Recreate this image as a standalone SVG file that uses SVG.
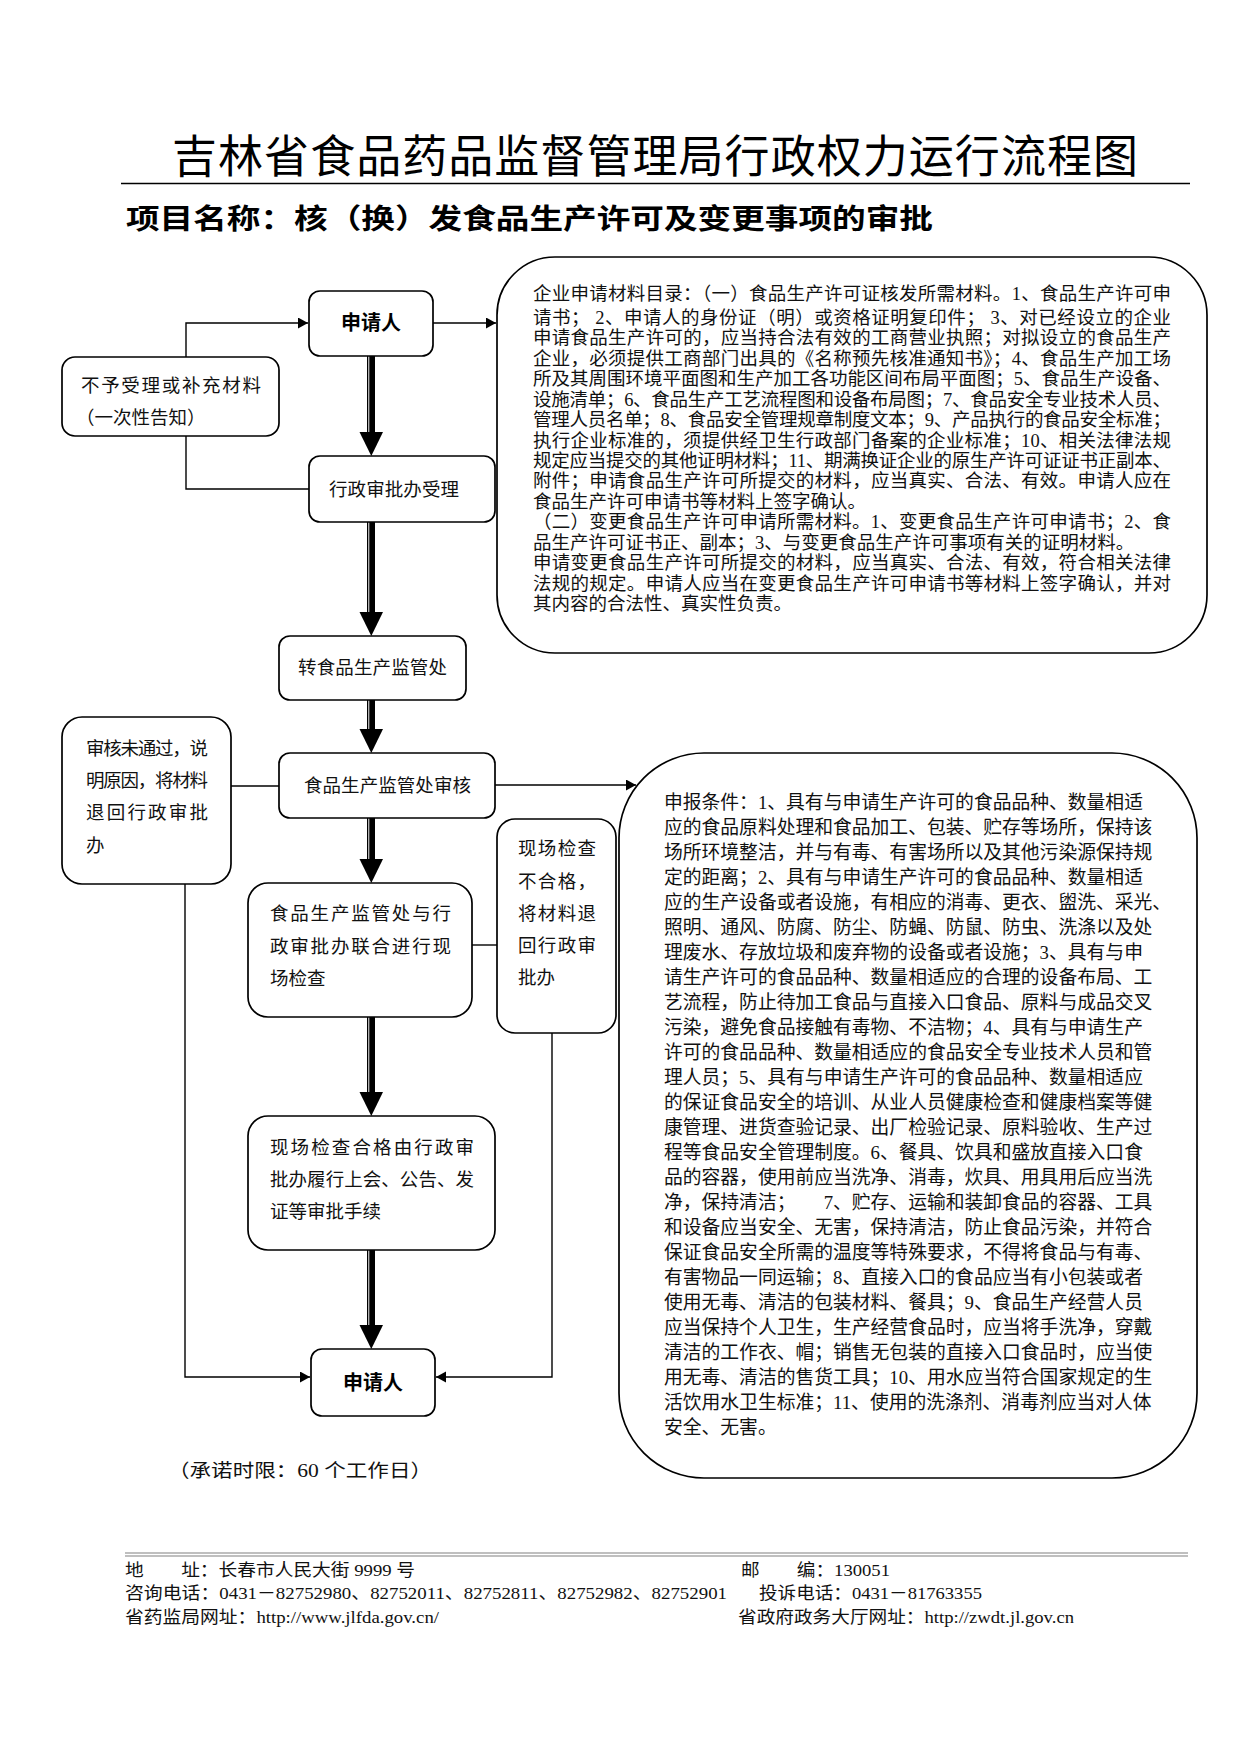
<svg xmlns="http://www.w3.org/2000/svg" width="1240" height="1754" viewBox="0 0 1240 1754">
<style>
.bg{fill:#ffffff}
.box{fill:#ffffff;stroke:#000000;stroke-width:1.7}
.t{font-family:"Liberation Serif","Noto Sans CJK SC",serif;font-size:18.5px;fill:#111111}
.b1{font-family:"Liberation Serif","Noto Sans CJK SC",serif;font-size:18.5px;fill:#111111}
.b2{font-family:"Liberation Serif","Noto Sans CJK SC",serif;font-size:18.8px;fill:#111111}
.bold{font-family:"Noto Sans CJK SC","Liberation Sans",sans-serif;font-size:20px;font-weight:bold;fill:#000000}
.title{font-family:"Noto Sans CJK SC","Liberation Sans",sans-serif;font-size:45px;fill:#000000}
.sub{font-family:"Noto Sans CJK SC","Liberation Sans",sans-serif;font-size:28px;font-weight:bold;fill:#000000}
.ft{font-family:"Liberation Serif","Noto Sans CJK SC",serif;font-size:17.5px;fill:#111111}
.cn{fill:none;stroke:#000000;stroke-width:1.4}
.thk{stroke:#000000;stroke-width:8}
.thkg{stroke:#b0b0b0;stroke-width:1.4}
.thh{fill:#000000}
</style>
<defs>
<marker id="arr" markerUnits="userSpaceOnUse" markerWidth="11" markerHeight="12" refX="10" refY="5.5" orient="auto">
<path d="M0,0 L10,5.5 L0,11 z" fill="#000000"/>
</marker>
</defs>
<rect class="bg" x="0" y="0" width="1240" height="1754"/>

<g id="header">
<text class="title" x="172" y="173" textLength="966" lengthAdjust="spacing">吉林省食品药品监督管理局行政权力运行流程图</text>
<line x1="121" y1="183.5" x2="1190" y2="183.5" stroke="#000000" stroke-width="1.6"/>
<text class="sub" x="126" y="229" textLength="807" lengthAdjust="spacingAndGlyphs">项目名称：核（换）发食品生产许可及变更事项的审批</text>
</g>

<g id="connectors">
<polyline class="cn" points="186,357 186,323 308,323" marker-end="url(#arr)"/>
<polyline class="cn" points="309,489 186,489 186,436"/>
<line class="cn" x1="433" y1="323" x2="496" y2="323" marker-end="url(#arr)"/>
<line class="cn" x1="279" y1="786" x2="231" y2="786"/>
<polyline class="cn" points="185,884 185,1377 310,1377" marker-end="url(#arr)"/>
<line class="cn" x1="495" y1="785" x2="636" y2="785" marker-end="url(#arr)"/>
<line class="cn" x1="472" y1="945" x2="497" y2="945"/>
<polyline class="cn" points="552,1033 552,1377 436,1377" marker-end="url(#arr)"/>

<g id="thick1">
<line class="thk" x1="371" y1="356" x2="371" y2="433"/>
<line class="thkg" x1="368.7" y1="356" x2="368.7" y2="433"/>
<polygon class="thh" points="359.5,432 383,432 371.3,456"/>
</g>
<g id="thick2">
<line class="thk" x1="371" y1="522" x2="371" y2="613"/>
<line class="thkg" x1="368.7" y1="522" x2="368.7" y2="613"/>
<polygon class="thh" points="359.5,612 383,612 371.3,636"/>
</g>
<g id="thick3">
<line class="thk" x1="371" y1="700" x2="371" y2="730"/>
<line class="thkg" x1="368.7" y1="700" x2="368.7" y2="730"/>
<polygon class="thh" points="359.5,729 383,729 371.3,753"/>
</g>
<g id="thick4">
<line class="thk" x1="371" y1="818" x2="371" y2="860"/>
<line class="thkg" x1="368.7" y1="818" x2="368.7" y2="860"/>
<polygon class="thh" points="359.5,859 383,859 371.3,883"/>
</g>
<g id="thick5">
<line class="thk" x1="371" y1="1017" x2="371" y2="1093"/>
<line class="thkg" x1="368.7" y1="1017" x2="368.7" y2="1093"/>
<polygon class="thh" points="359.5,1092 383,1092 371.3,1116"/>
</g>
<g id="thick6">
<line class="thk" x1="371" y1="1250" x2="371" y2="1326"/>
<line class="thkg" x1="368.7" y1="1250" x2="368.7" y2="1326"/>
<polygon class="thh" points="359.5,1325 383,1325 371.3,1349"/>
</g>
</g>

<g id="node-applicant-top">
<rect class="box" x="309" y="291" width="124" height="65" rx="11"/>
<text class="bold" x="371" y="330" text-anchor="middle">申请人</text>
</g>

<g id="node-reject">
<rect class="box" x="62" y="357" width="217" height="79" rx="13"/>
<text class="t" x="81" y="392" textLength="180" lengthAdjust="spacing">不予受理或补充材料</text>
<text class="t" x="76" y="424">（一次性告知）</text>
</g>

<g id="node-accept">
<rect class="box" x="309" y="456" width="186" height="66" rx="11"/>
<text class="t" x="329" y="496" textLength="130" lengthAdjust="spacing">行政审批办受理</text>
</g>

<g id="node-transfer">
<rect class="box" x="279" y="636" width="187" height="64" rx="11"/>
<text class="t" x="298" y="674" textLength="149" lengthAdjust="spacing">转食品生产监管处</text>
</g>

<g id="node-review">
<rect class="box" x="279" y="753" width="216" height="65" rx="11"/>
<text class="t" x="304" y="792" textLength="167" lengthAdjust="spacing">食品生产监管处审核</text>
</g>

<g id="node-review-fail">
<rect class="box" x="62" y="717" width="169" height="167" rx="20"/>
<text class="t" x="86" y="755" textLength="122" lengthAdjust="spacing">审核未通过，说</text>
<text class="t" x="86" y="787" textLength="122" lengthAdjust="spacing">明原因，将材料</text>
<text class="t" x="86" y="819" textLength="122" lengthAdjust="spacing">退回行政审批</text>
<text class="t" x="86" y="852">办</text>
</g>

<g id="node-inspect">
<rect class="box" x="248" y="883" width="224" height="134" rx="20"/>
<text class="t" x="270" y="920" textLength="181" lengthAdjust="spacing">食品生产监管处与行</text>
<text class="t" x="270" y="953" textLength="181" lengthAdjust="spacing">政审批办联合进行现</text>
<text class="t" x="270" y="985">场检查</text>
</g>

<g id="node-inspect-fail">
<rect class="box" x="497" y="819" width="119" height="214" rx="18"/>
<text class="t" x="518" y="855" textLength="78" lengthAdjust="spacing">现场检查</text>
<text class="t" x="518" y="888" textLength="78" lengthAdjust="spacing">不合格，</text>
<text class="t" x="518" y="920" textLength="78" lengthAdjust="spacing">将材料退</text>
<text class="t" x="518" y="952" textLength="78" lengthAdjust="spacing">回行政审</text>
<text class="t" x="518" y="984">批办</text>
</g>

<g id="node-approve">
<rect class="box" x="248" y="1116" width="247" height="134" rx="20"/>
<text class="t" x="270" y="1154" textLength="204" lengthAdjust="spacing">现场检查合格由行政审</text>
<text class="t" x="270" y="1186" textLength="204" lengthAdjust="spacing">批办履行上会、公告、发</text>
<text class="t" x="270" y="1218">证等审批手续</text>
</g>

<g id="node-applicant-bottom">
<rect class="box" x="311" y="1349" width="124" height="67" rx="11"/>
<text class="bold" x="373" y="1390" text-anchor="middle">申请人</text>
</g>

<g id="note-time">
<text class="t" x="168" y="1477" font-size="20" textLength="264" lengthAdjust="spacingAndGlyphs">（承诺时限：60 个工作日）</text>
</g>

<g id="node-materials">
<rect class="box" x="497" y="257" width="710" height="396" rx="58"/>
<text class="b1" x="533" y="300" textLength="638" lengthAdjust="spacing">企业申请材料目录：（一）食品生产许可证核发所需材料。1、食品生产许可申</text>
<text class="b1" x="533" y="324" textLength="638" lengthAdjust="spacing">请书； 2、申请人的身份证（明）或资格证明复印件； 3、对已经设立的企业</text>
<text class="b1" x="533" y="344.4" textLength="638" lengthAdjust="spacing">申请食品生产许可的，应当持合法有效的工商营业执照；对拟设立的食品生产</text>
<text class="b1" x="533" y="364.9" textLength="638" lengthAdjust="spacing">企业，必须提供工商部门出具的《名称预先核准通知书》；4、食品生产加工场</text>
<text class="b1" x="533" y="385.3" textLength="638" lengthAdjust="spacing">所及其周围环境平面图和生产加工各功能区间布局平面图；5、食品生产设备、</text>
<text class="b1" x="533" y="405.7" textLength="638" lengthAdjust="spacing">设施清单；6、食品生产工艺流程图和设备布局图；7、食品安全专业技术人员、</text>
<text class="b1" x="533" y="426.1" textLength="638" lengthAdjust="spacing">管理人员名单；8、食品安全管理规章制度文本；9、产品执行的食品安全标准；</text>
<text class="b1" x="533" y="446.6" textLength="638" lengthAdjust="spacing">执行企业标准的，须提供经卫生行政部门备案的企业标准；10、相关法律法规</text>
<text class="b1" x="533" y="467" textLength="638" lengthAdjust="spacing">规定应当提交的其他证明材料；11、期满换证企业的原生产许可证证书正副本、</text>
<text class="b1" x="533" y="487.4" textLength="638" lengthAdjust="spacing">附件；申请食品生产许可所提交的材料，应当真实、合法、有效。申请人应在</text>
<text class="b1" x="533" y="507.8">食品生产许可申请书等材料上签字确认。</text>
<text class="b1" x="533" y="528.3" textLength="638" lengthAdjust="spacing">（二）变更食品生产许可申请所需材料。1、变更食品生产许可申请书；2、食</text>
<text class="b1" x="533" y="548.7">品生产许可证书正、副本；3、与变更食品生产许可事项有关的证明材料。</text>
<text class="b1" x="533" y="569.1" textLength="638" lengthAdjust="spacing">申请变更食品生产许可所提交的材料，应当真实、合法、有效，符合相关法律</text>
<text class="b1" x="533" y="589.5" textLength="638" lengthAdjust="spacing">法规的规定。申请人应当在变更食品生产许可申请书等材料上签字确认，并对</text>
<text class="b1" x="533" y="610">其内容的合法性、真实性负责。</text>
</g>

<g id="node-conditions">
<rect class="box" x="619" y="753" width="578" height="725" rx="85"/>
<text class="b2" x="664" y="809">申报条件：1、具有与申请生产许可的食品品种、数量相适</text>
<text class="b2" x="664" y="834">应的食品原料处理和食品加工、包装、贮存等场所，保持该</text>
<text class="b2" x="664" y="859">场所环境整洁，并与有毒、有害场所以及其他污染源保持规</text>
<text class="b2" x="664" y="884">定的距离；2、具有与申请生产许可的食品品种、数量相适</text>
<text class="b2" x="664" y="909">应的生产设备或者设施，有相应的消毒、更衣、盥洗、采光、</text>
<text class="b2" x="664" y="934">照明、通风、防腐、防尘、防蝇、防鼠、防虫、洗涤以及处</text>
<text class="b2" x="664" y="959">理废水、存放垃圾和废弃物的设备或者设施；3、具有与申</text>
<text class="b2" x="664" y="984">请生产许可的食品品种、数量相适应的合理的设备布局、工</text>
<text class="b2" x="664" y="1009">艺流程，防止待加工食品与直接入口食品、原料与成品交叉</text>
<text class="b2" x="664" y="1034">污染，避免食品接触有毒物、不洁物；4、具有与申请生产</text>
<text class="b2" x="664" y="1059">许可的食品品种、数量相适应的食品安全专业技术人员和管</text>
<text class="b2" x="664" y="1084">理人员；5、具有与申请生产许可的食品品种、数量相适应</text>
<text class="b2" x="664" y="1109">的保证食品安全的培训、从业人员健康检查和健康档案等健</text>
<text class="b2" x="664" y="1134">康管理、进货查验记录、出厂检验记录、原料验收、生产过</text>
<text class="b2" x="664" y="1159">程等食品安全管理制度。6、餐具、饮具和盛放直接入口食</text>
<text class="b2" x="664" y="1184">品的容器，使用前应当洗净、消毒，炊具、用具用后应当洗</text>
<text class="b2" x="664" y="1209">净，保持清洁；　　7、贮存、运输和装卸食品的容器、工具</text>
<text class="b2" x="664" y="1234">和设备应当安全、无害，保持清洁，防止食品污染，并符合</text>
<text class="b2" x="664" y="1259">保证食品安全所需的温度等特殊要求，不得将食品与有毒、</text>
<text class="b2" x="664" y="1284">有害物品一同运输；8、直接入口的食品应当有小包装或者</text>
<text class="b2" x="664" y="1309">使用无毒、清洁的包装材料、餐具；9、食品生产经营人员</text>
<text class="b2" x="664" y="1334">应当保持个人卫生，生产经营食品时，应当将手洗净，穿戴</text>
<text class="b2" x="664" y="1359">清洁的工作衣、帽；销售无包装的直接入口食品时，应当使</text>
<text class="b2" x="664" y="1384">用无毒、清洁的售货工具；10、用水应当符合国家规定的生</text>
<text class="b2" x="664" y="1409">活饮用水卫生标准；11、使用的洗涤剂、消毒剂应当对人体</text>
<text class="b2" x="664" y="1434">安全、无害。</text>
</g>

<g id="footer">
<line x1="125" y1="1553" x2="1188" y2="1553" stroke="#808080" stroke-width="1.2"/>
<line x1="125" y1="1556" x2="1188" y2="1556" stroke="#808080" stroke-width="1.2"/>
<text class="ft" x="125" y="1576" textLength="290" lengthAdjust="spacingAndGlyphs">地　　址：长春市人民大街 9999 号</text>
<text class="ft" x="741" y="1576" textLength="149" lengthAdjust="spacingAndGlyphs">邮　　编：130051</text>
<text class="ft" x="125" y="1599" textLength="602" lengthAdjust="spacingAndGlyphs">咨询电话：0431－82752980、82752011、82752811、82752982、82752901</text>
<text class="ft" x="759" y="1599" textLength="223" lengthAdjust="spacingAndGlyphs">投诉电话：0431－81763355</text>
<text class="ft" x="125" y="1623" textLength="314" lengthAdjust="spacingAndGlyphs">省药监局网址：http://www.jlfda.gov.cn/</text>
<text class="ft" x="738" y="1623" textLength="336" lengthAdjust="spacingAndGlyphs">省政府政务大厅网址：http://zwdt.jl.gov.cn</text>
</g>
</svg>
